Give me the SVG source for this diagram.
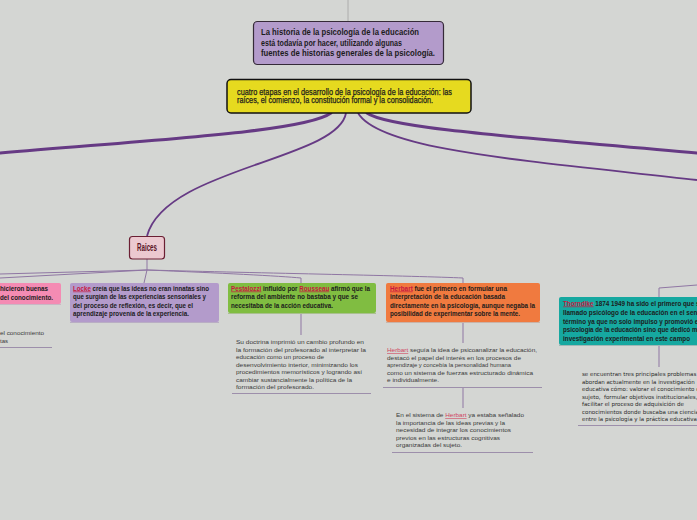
<svg xmlns="http://www.w3.org/2000/svg" width="697" height="520" viewBox="0 0 697 520">
<style>
.nt{font-family:"Liberation Sans",Arial,sans-serif;font-weight:bold;font-size:6.7px;fill:#1c1c1c}
.dt{font-family:"Liberation Sans",Arial,sans-serif;font-size:6px;fill:#3a3a3a}
.rt{font-family:"DejaVu Sans",sans-serif;font-size:5.5px;fill:#2a2a2a}
.hl{fill:#c8173f;text-decoration:underline}
.hl2{fill:#d0455f;text-decoration:underline}
.thick{fill:none;stroke:#663a84;stroke-width:3;stroke-linecap:round}
.mid{fill:none;stroke:#663a84;stroke-width:1.8}
.thin{fill:none;stroke:#8f76a3;stroke-width:1}
.ul{stroke:#9d8fab;stroke-width:1}
</style>
<rect width="697" height="520" fill="#d4d6d3"/>
<g id="connectors">
<line x1="348" y1="0" x2="348" y2="21" stroke="#a3a3a3" stroke-width="0.8"/>
<path class="thick" d="M331,113 C305,132 150,140 0,153"/>
<path class="mid" d="M346,113 C338,160 165,168 147,236"/>
<path class="mid" d="M358,113 C380,150 520,160 697,180"/>
<path class="thick" d="M367,113 C390,130 560,140 697,153"/>
<path class="thin" d="M147,259 L147,270"/>
<path class="thin" d="M147,270 L0,274"/>
<path class="thin" d="M147,270 L0,278"/>
<path class="thin" d="M147,270 L144,283"/>
<path class="thin" d="M147,270 C220,273 280,276 301,278 L301,283"/>
<path class="thin" d="M147,270 C260,273 420,276 463,278 L463,283"/>
<path class="thin" d="M697,285 L659,288 L659,297"/>
<path class="thin" d="M301,313 L301,335"/>
<path class="thin" d="M463,322 L463,343"/>
<path class="thin" d="M463,387 L463,408"/>
<path class="thin" d="M659,345 L659,367"/>
</g>
<g id="n-top">
<rect x="253.5" y="21.5" width="190" height="43" rx="4" fill="#b39bcb" stroke="#352a38" stroke-width="1.2"/>
<text class="nt" style="font-size:8.3px" x="261" y="35" textLength="158" lengthAdjust="spacingAndGlyphs">La historia de la psicología de la educación</text>
<text class="nt" style="font-size:8.3px" x="261" y="45.5" textLength="141" lengthAdjust="spacingAndGlyphs">está todavía por hacer, utilizando algunas</text>
<text class="nt" style="font-size:8.3px" x="261" y="56" textLength="174" lengthAdjust="spacingAndGlyphs">fuentes de historias generales de la psicología.</text>
</g>
<g id="n-main">
<rect x="227" y="79.5" width="244" height="33.5" rx="4" fill="#e6da1f" stroke="#111" stroke-width="1.5"/>
<text class="nt" style="font-size:8.8px;font-weight:normal;stroke:#1c1c1c;stroke-width:0.25" x="237" y="94.5" textLength="215" lengthAdjust="spacingAndGlyphs">cuatro etapas en el desarrollo de la psicología de la educación: las</text>
<text class="nt" style="font-size:8.8px;font-weight:normal;stroke:#1c1c1c;stroke-width:0.25" x="237" y="102.8" textLength="196" lengthAdjust="spacingAndGlyphs">raíces, el comienzo, la constitución formal y la consolidación.</text>
</g>
<g id="n-raices">
<rect x="129.5" y="236.5" width="35" height="22.5" rx="3" fill="#ecc9d0" stroke="#6b1f33" stroke-width="1.2"/>
<text class="nt" style="font-size:10px;fill:#5a1526" x="137" y="251" textLength="20" lengthAdjust="spacingAndGlyphs">Raices</text>
</g>
<g id="n-pink">
<rect x="-4" y="283" width="65" height="21" rx="2" fill="#f48bb3"/>
<line x1="0" y1="304.5" x2="61" y2="304.5" stroke="#c9b6c4" stroke-width="1"/>
<text class="nt" x="0" y="290.5" textLength="48" lengthAdjust="spacingAndGlyphs">hicieron buenas</text>
<text class="nt" x="0" y="299.5" textLength="53" lengthAdjust="spacingAndGlyphs">del conocimiento.</text>
</g>
<g id="d-pink">
<text class="dt" x="0" y="335" textLength="44" lengthAdjust="spacingAndGlyphs">el conocimiento</text>
<text class="dt" x="0" y="343" textLength="8" lengthAdjust="spacingAndGlyphs">tas</text>
<line class="ul" x1="0" y1="347.5" x2="52" y2="347.5"/>
</g>
<g id="n-locke">
<rect x="70" y="283" width="149" height="39" rx="2" fill="#b39bcb"/>
<line x1="70" y1="322.5" x2="219" y2="322.5" stroke="#b9aec4" stroke-width="1"/>
<text class="nt" x="73" y="290.5" textLength="136" lengthAdjust="spacingAndGlyphs"><tspan class="hl">Locke</tspan> creía que las ideas no eran innatas sino</text>
<text class="nt" x="73" y="299" textLength="133" lengthAdjust="spacingAndGlyphs">que surgían de las experiencias sensoriales y</text>
<text class="nt" x="73" y="307.5" textLength="120" lengthAdjust="spacingAndGlyphs">del proceso de reflexión, es decir, que el</text>
<text class="nt" x="73" y="316" textLength="116" lengthAdjust="spacingAndGlyphs">aprendizaje provenía de la experiencia.</text>
</g>
<g id="n-pestalozzi">
<rect x="228" y="283" width="148" height="30" rx="2" fill="#80bd41"/>
<line x1="228" y1="313.5" x2="376" y2="313.5" stroke="#a9c08e" stroke-width="1"/>
<text class="nt" x="231" y="290.5" textLength="139" lengthAdjust="spacingAndGlyphs"><tspan class="hl">Pestalozzi</tspan> influido por <tspan class="hl">Rousseau</tspan> afirmó que la</text>
<text class="nt" x="231" y="299" textLength="127" lengthAdjust="spacingAndGlyphs">reforma del ambiente no bastaba y que se</text>
<text class="nt" x="231" y="307.5" textLength="102" lengthAdjust="spacingAndGlyphs">necesitaba de la acción educativa.</text>
</g>
<g id="d-pestalozzi">
<text class="dt" x="236" y="344" textLength="128" lengthAdjust="spacingAndGlyphs">Su doctrina imprimió un cambio profundo en</text>
<text class="dt" x="236" y="351.5" textLength="130" lengthAdjust="spacingAndGlyphs">la formación del profesorado al interpretar la</text>
<text class="dt" x="236" y="359" textLength="88" lengthAdjust="spacingAndGlyphs">educación como un proceso de</text>
<text class="dt" x="236" y="366.5" textLength="122" lengthAdjust="spacingAndGlyphs">desenvolvimiento interior, minimizando los</text>
<text class="dt" x="236" y="374" textLength="126" lengthAdjust="spacingAndGlyphs">procedimientos memorísticos y logrando así</text>
<text class="dt" x="236" y="381.5" textLength="116" lengthAdjust="spacingAndGlyphs">cambiar sustancialmente la política de la</text>
<text class="dt" x="236" y="389" textLength="78" lengthAdjust="spacingAndGlyphs">formación del profesorado.</text>
<line class="ul" x1="232" y1="393.5" x2="371" y2="393.5"/>
</g>
<g id="n-herbart">
<rect x="386" y="283" width="154" height="39" rx="2" fill="#f07a3f"/>
<line x1="386" y1="322.5" x2="540" y2="322.5" stroke="#c9b3a8" stroke-width="1"/>
<text class="nt" x="390" y="290.5" textLength="117" lengthAdjust="spacingAndGlyphs"><tspan class="hl">Herbart</tspan> fue el primero en formular una</text>
<text class="nt" x="390" y="299" textLength="115" lengthAdjust="spacingAndGlyphs">interpretación de la educación basada</text>
<text class="nt" x="390" y="307.5" textLength="145" lengthAdjust="spacingAndGlyphs">directamente en la psicología, aunque negaba la</text>
<text class="nt" x="390" y="316" textLength="130" lengthAdjust="spacingAndGlyphs">posibilidad de experimentar sobre la mente.</text>
</g>
<g id="d-herbart1">
<text class="dt" x="387" y="352" textLength="150" lengthAdjust="spacingAndGlyphs"><tspan class="hl2">Herbart</tspan> seguía la idea de psicoanalizar la educación,</text>
<text class="dt" x="387" y="359.5" textLength="134" lengthAdjust="spacingAndGlyphs">destacó el papel del interés en los procesos de</text>
<text class="dt" x="387" y="367" textLength="124" lengthAdjust="spacingAndGlyphs">aprendizaje y concebía la personalidad humana</text>
<text class="dt" x="387" y="374.5" textLength="146" lengthAdjust="spacingAndGlyphs">como un sistema de fuerzas estructurado dinámica</text>
<text class="dt" x="387" y="382" textLength="52" lengthAdjust="spacingAndGlyphs">e individualmente.</text>
<line class="ul" x1="383" y1="387.5" x2="542" y2="387.5"/>
</g>
<g id="d-herbart2">
<text class="dt" x="396" y="417" textLength="128" lengthAdjust="spacingAndGlyphs">En el sistema de <tspan class="hl2">Herbart</tspan> ya estaba señalado</text>
<text class="dt" x="396" y="424.5" textLength="109" lengthAdjust="spacingAndGlyphs">la importancia de las ideas previas y la</text>
<text class="dt" x="396" y="432" textLength="115" lengthAdjust="spacingAndGlyphs">necesidad de integrar los conocimientos</text>
<text class="dt" x="396" y="439.5" textLength="104" lengthAdjust="spacingAndGlyphs">previos en las estructuras cognitivas</text>
<text class="dt" x="396" y="447" textLength="66" lengthAdjust="spacingAndGlyphs">organizadas del sujeto.</text>
<line class="ul" x1="392" y1="452.5" x2="533" y2="452.5"/>
</g>
<g id="n-thorndike">
<rect x="559" y="297" width="142" height="48" rx="2" fill="#16a8a0"/>
<line x1="559" y1="345.5" x2="697" y2="345.5" stroke="#9fb7b5" stroke-width="1"/>
<text class="nt" x="563" y="305.5" textLength="140" lengthAdjust="spacingAndGlyphs"><tspan class="hl">Thorndike</tspan> 1874 1949 ha sido el primero que se</text>
<text class="nt" x="563" y="314.5" textLength="146" lengthAdjust="spacingAndGlyphs">llamado psicólogo de la educación en el sentido</text>
<text class="nt" x="563" y="323.5" textLength="137" lengthAdjust="spacingAndGlyphs">término ya que no solo impulso y promovió el</text>
<text class="nt" x="563" y="331.5" textLength="149" lengthAdjust="spacingAndGlyphs">psicología de la educación sino que dedicó mucha</text>
<text class="nt" x="563" y="340.5" textLength="127" lengthAdjust="spacingAndGlyphs">investigación experimental en este campo</text>
</g>
<g id="d-thorndike">
<text class="rt" x="582" y="376">se encuentran tres principales problemas que se</text>
<text class="rt" x="582" y="383.5">abordan actualmente en la investigación</text>
<text class="rt" x="582" y="391">educativa cómo: valorar el conocimiento del</text>
<text class="rt" x="582" y="398.5" xml:space="preserve">sujeto,  formular objetivos institucionales,</text>
<text class="rt" x="582" y="406" textLength="102" lengthAdjust="spacingAndGlyphs">facilitar el proceso de adquisición de</text>
<text class="rt" x="582" y="413.5">conocimientos donde buscaba una ciencia</text>
<text class="rt" x="582" y="421">entre la psicología y la práctica educativa.</text>
<line class="ul" x1="578" y1="425.5" x2="697" y2="425.5"/>
</g>
</svg>
